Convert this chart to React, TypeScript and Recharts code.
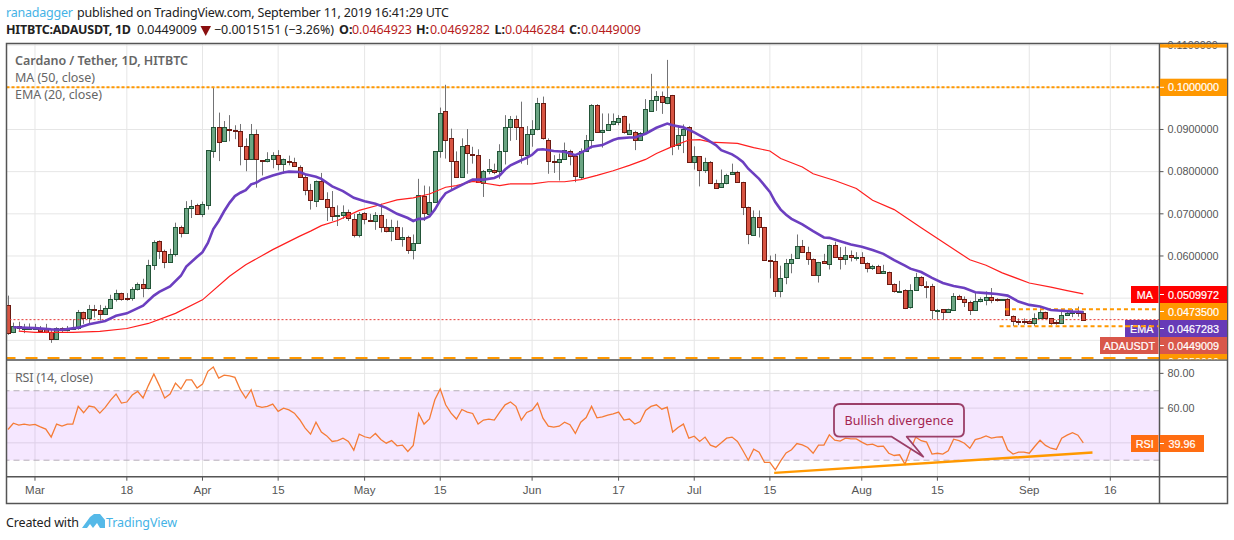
import React from 'react';
import {
  ComposedChart, Bar, Line, XAxis, YAxis, CartesianGrid, ReferenceLine, ReferenceArea,
} from 'recharts';

// Values are in thousandths of a USDT; day 0 is 1 March 2019
const firstDay = -5;
const opens = [
  48.4,41.9,43.3,42.9,42.9,42.9,43.0,42.6,41.9,40.2,
  42.9,42.4,42.8,42.9,46.7,45.4,47.4,47.1,46.2,47.6,
  49.8,51.2,50.0,50.0,52.1,53.3,52.4,57.9,63.6,61.1,
  58.6,60.5,66.9,65.4,71.4,72.1,70.0,72.1,85.0,90.6,
  87.3,90.2,89.9,89.7,86.2,82.9,89.0,82.7,82.6,82.9,
  84.0,81.7,82.6,82.4,81.2,78.8,75.7,73.1,77.9,73.6,
  71.7,69.4,69.8,70.5,68.8,64.9,70.2,68.6,68.3,69.8,
  66.8,65.9,66.9,64.0,64.5,61.4,63.1,74.3,70.0,72.9,
  84.8,94.3,87.9,82.6,78.7,86.4,84.3,84.0,77.4,80.2,
  80.5,80.2,85.0,90.5,92.6,90.7,84.0,89.0,90.0,96.2,
  87.4,82.6,82.4,83.1,84.9,83.6,78.7,85.0,87.4,95.7,
  89.5,89.8,91.2,91.8,93.1,89.0,89.5,87.4,89.2,94.5,
  97.0,97.9,96.2,98.1,86.3,88.6,90.5,82.4,83.6,80.5,
  82.4,77.4,76.4,77.4,79.5,80.0,77.6,71.7,65.0,69.3,
  66.9,59.0,58.8,51.7,55.0,58.3,59.5,62.4,61.0,59.3,
  55.5,58.8,58.1,62.6,59.8,59.3,60.2,59.7,59.8,58.3,
  57.1,57.6,55.9,56.2,53.3,51.7,52.0,47.8,51.9,55.0,
  52.9,52.9,47.1,47.4,46.7,47.2,50.5,49.9,49.2,47.1,
  49.3,49.5,50.2,49.7,49.6,49.8,45.7,44.6,44.6,44.6,
  44.2,45.2,46.7,45.2,44.3,44.2,46.0,46.4,46.8,46.4923,
];
const closes = [
  41.7,43.3,42.9,43.0,43.0,43.0,42.3,41.9,40.2,42.9,
  42.4,42.9,42.9,46.7,45.4,47.4,47.1,46.2,47.7,49.8,
  51.2,49.8,49.9,52.1,53.3,52.4,57.9,63.3,61.2,58.6,
  60.5,66.9,65.4,71.4,71.9,70.0,72.4,85.1,90.7,87.1,
  90.5,89.9,89.8,86.2,82.9,89.0,82.9,82.6,82.9,84.0,
  81.7,82.9,82.3,81.3,78.8,75.7,73.3,77.9,73.6,71.7,
  69.5,69.8,70.5,69.0,65.0,70.0,68.7,68.3,69.8,66.8,
  65.9,66.9,64.0,64.5,61.4,63.1,74.4,70.2,72.9,84.8,
  94.0,87.6,82.6,78.7,86.2,84.4,84.0,77.6,80.2,80.7,
  80.0,85.0,90.5,92.6,90.7,84.0,89.0,90.2,96.2,87.9,
  82.6,82.4,83.1,85.2,83.6,79.0,85.0,87.4,95.7,89.5,
  89.8,91.2,92.1,92.8,89.3,89.8,87.4,89.2,94.8,96.9,
  97.9,96.4,97.6,86.2,88.8,90.2,82.4,83.6,80.5,82.4,
  77.4,76.1,77.4,79.3,80.0,77.6,71.7,65.2,69.3,66.9,
  59.0,58.8,51.7,54.8,58.3,59.3,62.4,61.0,59.3,55.5,
  58.6,58.3,62.6,59.8,59.3,60.2,59.8,59.8,58.3,57.1,
  57.6,55.9,56.4,53.3,51.7,51.8,47.7,51.9,55.0,53.0,
  52.8,47.1,47.2,46.7,47.4,50.5,49.9,49.0,47.1,49.3,
  49.8,50.2,49.5,49.5,49.8,46.0,44.5,44.4,44.5,44.2,
  45.2,46.7,45.2,44.2,44.2,45.9,46.4,46.8,46.4,44.9009,
];
const highs = [
  50.6,44.2,44.4,43.9,44.0,43.9,43.4,43.9,42.6,43.1,
  43.1,43.4,45.0,47.2,46.8,48.4,48.4,48.4,48.2,50.8,
  52.0,51.3,51.2,52.6,53.7,54.6,59.1,63.7,63.7,61.5,
  61.7,67.9,67.2,73.0,73.3,72.4,72.9,85.1,100.0,94.0,
  92.0,93.4,91.0,91.3,87.9,91.3,90.0,82.7,84.6,84.6,
  85.1,83.1,83.8,83.3,81.5,79.5,77.1,77.9,79.7,75.1,
  75.4,72.0,72.0,71.0,70.0,70.4,70.4,70.0,70.4,72.4,
  68.8,68.6,68.4,66.8,64.8,65.1,78.3,76.7,76.5,84.8,
  95.2,100.6,90.2,84.8,87.9,90.1,85.9,85.3,80.4,83.0,
  81.9,86.5,93.4,93.2,93.3,96.6,90.8,92.2,97.5,97.8,
  87.9,83.9,84.3,86.9,85.2,83.9,85.5,88.7,96.0,96.0,
  93.8,93.8,93.8,93.4,93.3,91.4,89.7,89.4,97.2,103.2,
  99.1,99.0,106.5,98.2,91.0,91.2,90.8,86.0,83.7,83.3,
  82.5,78.1,80.5,79.5,81.9,80.2,77.6,71.7,70.8,70.8,
  66.9,60.1,60.5,57.7,59.3,60.5,65.1,63.8,62.2,59.4,
  58.6,60.5,62.7,63.4,62.1,62.2,61.3,60.9,60.9,58.5,
  57.9,57.9,57.9,56.3,53.5,54.1,52.1,53.3,56.0,55.2,
  54.0,53.4,47.4,47.4,47.5,51.2,50.8,50.4,49.4,51.2,
  50.2,51.6,52.4,50.0,49.8,50.0,45.9,45.2,45.2,44.8,
  46.4,47.5,46.8,45.3,44.8,46.8,47.2,47.4,48.0,46.9282,
];
const lows = [
  41.3,41.7,42.3,41.7,42.5,42.6,42.0,41.7,39.4,40.1,
  41.9,42.1,42.6,42.5,43.9,43.9,45.4,44.7,46.0,47.4,
  49.2,49.4,49.4,49.4,51.8,50.2,52.1,56.7,59.3,57.1,
  58.5,59.9,64.4,65.4,69.0,69.8,69.2,71.0,83.3,82.5,
  87.2,87.2,87.7,81.5,80.1,82.9,76.2,79.1,82.2,80.8,
  80.3,79.5,81.5,81.1,78.6,74.4,71.0,71.6,73.3,68.3,
  68.3,67.1,68.8,68.3,64.4,64.4,67.5,68.3,66.2,65.6,
  65.6,63.5,63.8,62.2,60.5,59.2,63.1,68.3,69.6,72.9,
  83.3,83.1,75.6,78.6,78.6,79.5,81.9,77.5,74.0,79.4,
  79.4,78.3,81.7,87.3,87.5,81.9,81.6,85.9,89.8,87.6,
  79.5,79.7,77.9,83.0,81.5,77.5,78.1,85.1,85.5,89.4,
  85.7,89.7,91.0,91.0,89.0,88.8,85.1,87.3,89.0,94.4,
  94.4,93.7,96.0,83.9,85.2,84.4,82.2,80.5,76.5,79.7,
  77.1,76.0,76.2,77.0,79.4,77.4,69.7,62.8,64.9,64.4,
  59.0,54.7,50.3,50.2,53.3,55.9,59.4,60.8,57.9,55.4,
  53.7,58.2,56.8,59.7,56.8,57.9,58.7,58.9,58.1,56.1,
  56.7,55.8,55.9,53.2,51.3,51.7,47.4,47.5,51.9,52.8,
  50.0,45.0,44.8,44.8,46.6,47.2,49.8,47.9,46.0,47.1,
  49.0,48.3,48.8,49.2,49.6,45.8,43.4,43.6,43.7,43.9,
  43.4,45.2,45.0,43.7,43.7,44.0,45.8,45.5,45.6,44.6284,
];
const rsiValues = [
  47.7,51.3,50.2,50.8,50.2,50.6,49.2,47.9,43.3,50.8,
  49.6,50.8,50.8,61.0,57.3,61.2,60.6,57.1,60.4,64.6,
  68.1,62.9,63.5,67.5,69.6,65.8,73.1,79.6,73.1,65.8,
  68.1,74.4,71.0,76.2,76.2,71.5,73.8,81.2,83.7,77.3,
  79.0,78.5,77.7,70.6,65.8,70.6,61.3,60.4,61.0,62.3,
  58.1,60.0,59.0,57.1,53.3,48.5,45.0,51.9,46.2,44.0,
  40.8,41.3,42.7,40.8,35.8,45.0,43.5,42.7,45.4,41.9,
  39.8,41.3,38.3,38.7,35.0,38.5,56.9,50.8,53.8,64.8,
  71.0,61.9,57.1,53.7,59.2,57.7,56.9,50.8,53.1,53.7,
  53.1,57.7,61.9,63.5,61.0,53.1,57.5,58.8,62.9,54.2,
  49.6,49.0,49.6,51.9,50.4,45.4,51.9,54.6,61.0,54.4,
  55.0,56.0,56.7,57.7,53.1,53.7,50.8,52.3,58.7,61.0,
  61.9,59.4,60.6,46.2,48.8,50.8,42.7,43.8,40.8,43.3,
  38.7,37.5,40.0,42.7,43.3,40.8,35.6,30.0,36.3,34.6,
  28.8,28.8,24.4,29.6,34.2,36.0,39.6,38.8,37.3,34.0,
  38.7,38.7,44.6,41.5,41.0,42.7,42.3,42.3,40.4,38.8,
  39.2,37.9,38.1,34.0,32.7,33.1,27.7,36.0,43.3,41.2,
  40.4,33.5,34.0,33.5,35.4,42.1,41.3,39.8,36.9,41.9,
  42.7,44.0,42.7,43.3,43.5,36.0,33.5,34.6,34.6,34.0,
  37.9,41.5,38.5,36.9,36.2,42.7,44.4,45.8,44.4,39.96,
];
// Averages are read at the days where the curve was legible
const emaDays = [-4,0,3,5,8,10,13,15,17,20,22,23,25,27,28,30,31,32,33,34,35,36,37,38,39,40,41,42,44,46,47,49,50,52,53,55,57,59,61,63,65,67,69,70,71,72,73,74,75,76,78,80,81,83,85,86,87,88,90,91,92,93,94,96,98,100,101,102,103,105,107,108,110,111,113,115,117,118,120,122,124,126,127,129,130,131,132,134,136,137,138,139,140,142,144,146,147,149,151,153,155,157,159,161,162,164,166,168,170,172,174,176,178,180,182,184,186,188,190,192,194];
const emaValues = [43.1,42.9,42.6,42.5,43.0,43.8,44.6,45.8,46.4,48.2,50.6,51.5,52.8,55.3,57.5,59.8,60.9,63.1,66.4,68.3,70.6,72.6,74.2,75.0,75.6,77.0,77.4,78.2,79.1,79.8,80.0,79.9,79.4,78.8,78.3,76.5,75.4,73.8,73.0,72.4,71.4,70.0,69.0,68.3,68.8,68.8,69.4,71.0,73.2,74.9,76.2,77.5,78.1,78.1,78.5,79.1,80.5,81.5,82.7,83.3,84.0,85.2,85.3,84.9,84.7,83.9,84.5,85.1,85.9,86.3,87.5,87.9,88.1,88.1,89.0,90.4,91.4,91.0,90.5,89.3,87.9,86.3,85.1,84.1,83.3,82.3,80.7,78.3,75.2,72.8,71.0,69.8,68.8,67.5,65.9,64.4,64.3,63.5,62.7,62.2,61.4,60.5,59.0,57.7,57.0,56.2,54.8,53.6,52.9,52.4,51.4,51.2,51.0,50.6,49.2,48.4,48.0,47.2,47.0,46.8,46.7283];
const maDays = [-3,0,7,12,17,21,26,31,36,39,44,49,51,53,56,60,64,67,70,73,76,78,81,83,86,88,92,95,98,101,104,107,110,113,115,118,121,123,125,130,133,136,138,142,144,148,152,155,159,164,173,176,179,184,188,191,194];
const maValues = [42.2,41.9,41.9,42.1,42.8,44.0,46.4,49.6,55.2,57.9,61.5,64.7,65.9,67.2,68.4,70.8,72.2,73.3,73.8,74.7,76.3,76.7,77.7,77.3,76.7,77.1,77.1,77.6,77.6,78.1,79.1,80.2,81.5,82.9,84.3,86.0,87.5,87.6,87.0,86.7,85.7,84.9,83.1,81.1,79.5,77.9,76.0,73.2,71.0,66.7,59.1,57.8,56.0,53.6,52.6,51.8,50.9972];

const dayTicks = [0, 17, 31, 45, 61, 75, 92, 108, 122, 136, 153, 167, 184, 199];
const dayLabels = ['Mar', '18', 'Apr', '15', 'May', '15', 'Jun', '17', 'Jul', '15', 'Aug', '15', 'Sep', '16'];
const priceTicks = [0.04, 0.05, 0.06, 0.07, 0.08, 0.09, 0.1, 0.11];
const rsiTicks = [40, 60, 80];
const levels = { resistance: 0.1, upper: 0.04735, lower: 0.04333, base: 0.0358, last: 0.0449009 };
const rsiTrend = { fromDay: 136.8, fromRsi: 22.7, toDay: 195.7, toRsi: 34.4 };

const table = opens.map((o, i) => {
  const day = firstDay + i;
  const e = emaDays.indexOf(day);
  const m = maDays.indexOf(day);
  return {
    day,
    o: o / 1000,
    c: closes[i] / 1000,
    h: highs[i] / 1000,
    l: lows[i] / 1000,
    range: [lows[i] / 1000, highs[i] / 1000],
    ema: e >= 0 ? emaValues[e] / 1000 : null,
    ma: m >= 0 ? maValues[m] / 1000 : null,
    rsi: rsiValues[i],
  };
});

const xDomain = [-5.27, 208.1];
const axisFont = '"Liberation Sans", Arial, sans-serif';
const uiFont = '"Noto Sans", "Open Sans", sans-serif';
const tickStyle = { fontSize: 10.8, fontFamily: axisFont, fill: '#555' };

const Candle = (props: any) => {
  const { x, y, width, height, payload } = props;
  if (!payload || !height) return null;
  const cx = Math.round(x + width / 2) + 0.5;
  const perUnit = height / (payload.h - payload.l);
  const yOf = (v: number) => y + (payload.h - v) * perUnit;
  const up = payload.c >= payload.o;
  const top = Math.round(yOf(Math.max(payload.o, payload.c))) + 0.5;
  const bottom = Math.max(top + 1, Math.round(yOf(Math.min(payload.o, payload.c))) + 0.5);
  return (
    <g>
      <line x1={cx} x2={cx} y1={y} y2={y + height} stroke="#737375" strokeWidth={1} />
      <rect
        x={cx - 2} y={top} width={4} height={bottom - top}
        fill={up ? '#6ba583' : '#d75442'}
        stroke={up ? '#225437' : '#6b1a12'}
        strokeWidth={1}
      />
    </g>
  );
};

const Tag = ({ x, y, w, h, fill, label }: any) => (
  <g>
    <rect x={x} y={y} width={w} height={h} fill={fill} />
    <text x={x + w / 2} y={y + h / 2 + 4} textAnchor="middle" fontFamily={axisFont} fontSize={10.8} fontWeight={400} fill="#fff" stroke="#fff" strokeWidth={0.2}>{label}</text>
  </g>
);
const tick = (y: number) => <line x1={1160} x2={1164} y1={y} y2={y} stroke="#fff" strokeWidth={1} />;

const Overlay = () => (
  <svg width={1234} height={540} style={{ position: 'absolute', left: 0, top: 0, pointerEvents: 'none' }}>
    {/* header */}
    <text x={6} y={17} fontFamily={uiFont} fontSize={12.5} fill="#45b3e6" textLength={67}>ranadagger</text>
    <text x={77} y={17} fontFamily={uiFont} fontSize={12.5} fill="#222" textLength={372}>published on TradingView.com, September 11, 2019 16:41:29 UTC</text>
    <text x={6} y={34} fontFamily={uiFont} fontSize={12.5} fontWeight={700} fill="#222" textLength={125}>HITBTC:ADAUSDT, 1D</text>
    <text x={137} y={34} fontFamily={uiFont} fontSize={12.5} fill="#222" textLength={60}>0.0449009</text>
    <path d="M200.5 26 L211 26 L205.7 36 Z" fill="#8a0f0f" />
    <text x={214} y={34} fontFamily={uiFont} fontSize={12.5} fill="#222" textLength={120}>−0.0015151 (−3.26%)</text>
    {[
      ['O:', 339, '0.0464923', 352],
      ['H:', 416, '0.0469282', 430],
      ['L:', 494.5, '0.0446284', 505],
      ['C:', 569, '0.0449009', 581],
    ].map(([k, kx, v, vx]) => (
      <g key={k as string}>
        <text x={kx as number} y={34} fontFamily={uiFont} fontSize={12.5} fontWeight={700} fill="#222">{k}</text>
        <text x={vx as number} y={34} fontFamily={uiFont} fontSize={12.5} fill="#b71c1c" textLength={60}>{v}</text>
      </g>
    ))}
    {/* pane legends */}
    <text x={15} y={65} fontFamily={uiFont} fontSize={12.5} fontWeight={600} fill="#666" textLength={173}>Cardano / Tether, 1D, HITBTC</text>
    <text x={15} y={82} fontFamily={uiFont} fontSize={12.5} fill="#666" textLength={80}>MA (50, close)</text>
    <text x={15} y={99} fontFamily={uiFont} fontSize={12.5} fill="#666" textLength={87}>EMA (20, close)</text>
    <text x={15} y={382} fontFamily={uiFont} fontSize={12.5} fill="#666" textLength={78}>RSI (14, close)</text>
    {/* frame */}
    <g fill="none" stroke="#555" strokeWidth={1.5}>
      <rect x={6.5} y={43.5} width={1221} height={460} />
      <line x1={6.5} x2={1227.5} y1={360} y2={360} />
      <line x1={6.5} x2={1227.5} y1={476.7} y2={476.7} />
      <line x1={1159.5} x2={1159.5} y1={43.5} y2={503.5} />
    </g>
    {/* price tags */}
    <rect x={1160} y={44.2} width={67} height={3.4} fill="#ff9800" />
    <Tag x={1160} y={78.7} w={67} h={17.3} fill="#ff9800" label="0.1000000" />
    {tick(87.3)}
    <Tag x={1131} y={286} w={27.5} h={17} fill="#ff0000" label="MA" />
    <Tag x={1160} y={286} w={67} h={17} fill="#ff0000" label="0.0509972" />
    {tick(294.5)}
    <Tag x={1160} y={303} w={67} h={17} fill="#ff9800" label="0.0473500" />
    {tick(311.5)}
    <Tag x={1125} y={320} w={33.5} h={17} fill="#673ab7" label="EMA" />
    <Tag x={1160} y={320} w={67} h={17} fill="#673ab7" label="0.0467283" />
    {tick(328.5)}
    <Tag x={1100} y={337} w={58.5} h={17} fill="#d9574a" label="ADAUSDT" />
    <Tag x={1160} y={337} w={67} h={17} fill="#d9574a" label="0.0449009" />
    {tick(345.5)}
    <line x1={1125} x2={1158.5} y1={326.3} y2={326.3} stroke="#ff9800" strokeWidth={2} strokeDasharray="5 3" />
    <rect x={1160} y={354} width={67} height={5.3} fill="#ff9800" />
    <clipPath id="baseClip"><rect x={1160} y={354} width={67} height={5.3} /></clipPath>
    <text x={1193.5} y={365.5} textAnchor="middle" clipPath="url(#baseClip)" fontFamily={axisFont} fontSize={10.8} fill="#fff">0.0358000</text>
    {/* RSI tags */}
    <Tag x={1131} y={435} w={27.5} h={17} fill="#ff6d12" label="RSI" />
    <Tag x={1160} y={435} w={44} h={17} fill="#ff6d12" label="39.96" />
    {tick(443.5)}
    {/* callout */}
    <path
      d="M840 404 H958 Q964 404 964 410 V430.7 Q964 436.7 958 436.7 H906.7 L923.3 456.7 L891.7 436.7 H840 Q834 436.7 834 430.7 V410 Q834 404 840 404 Z"
      fill="#f3e4fb" fillOpacity={0.85} stroke="#9b3f68" strokeWidth={1.8} strokeLinejoin="round"
    />
    <text x={899} y={424.5} textAnchor="middle" fontFamily={uiFont} fontSize={12.5} fill="#a3244f" textLength={109}>Bullish divergence</text>
    {/* footer */}
    <text x={6} y={527} fontFamily={uiFont} fontSize={12.5} fill="#222" textLength={73}>Created with</text>
    <path d="M82 528 L90 517 L94 514 L100 514 L105 520 L105 528 L100 528 L97 523 L93 528 L90 524 L87 528 Z" fill="#55b9e8" />
    <text x={106} y={527} fontFamily={uiFont} fontSize={12.5} fill="#45b3e6" textLength={71}>TradingView</text>
  </svg>
);

const PriceChart = () => (
  <div style={{ position: 'absolute', left: 0, top: 0 }}>
    <ComposedChart width={1234} height={360} data={table} margin={{ top: 43.5, right: 6.5, bottom: 0.5, left: 6.5 }}>
      <XAxis dataKey="day" type="number" domain={xDomain} ticks={dayTicks} allowDataOverflow hide />
      <YAxis
        yAxisId="p" orientation="right" width={68} domain={[0.03545, 0.11039]} ticks={priceTicks} interval={0}
        allowDataOverflow tickFormatter={(v: number) => (v < 0.055 ? '' : v.toFixed(7))} tick={tickStyle} tickSize={4} tickMargin={4}
        axisLine={false} tickLine={{ stroke: '#555' }}
      />
      <CartesianGrid stroke="#e6e6e6" strokeWidth={1} yAxisId="p" />
      <ReferenceLine yAxisId="p" y={levels.resistance} stroke="#ff9800" strokeWidth={2} strokeDasharray="3 2" />
      <ReferenceLine yAxisId="p" y={levels.base} stroke="#ff9800" strokeWidth={2} strokeDasharray="12 10" />
      <ReferenceLine yAxisId="p" y={levels.last} stroke="#e53935" strokeWidth={1} strokeDasharray="2 2" />
      <ReferenceLine yAxisId="p" stroke="#ff9800" strokeWidth={2} strokeDasharray="4 3"
        segment={[{ x: 179.5, y: levels.upper }, { x: 208.1, y: levels.upper }]} />
      <ReferenceLine yAxisId="p" stroke="#ff9800" strokeWidth={2} strokeDasharray="4 3"
        segment={[{ x: 178.5, y: levels.lower }, { x: 208.1, y: levels.lower }]} />
      <Line yAxisId="p" dataKey="ma" stroke="#ff1f1f" strokeWidth={1.2} dot={false} connectNulls isAnimationActive={false} />
      <Line yAxisId="p" dataKey="ema" stroke="#6c3fc0" strokeWidth={2.6} dot={false} connectNulls isAnimationActive={false} />
      <Bar yAxisId="p" dataKey="range" barSize={5} shape={Candle} isAnimationActive={false} />
    </ComposedChart>
  </div>
);

const RsiChart = () => (
  <div style={{ position: 'absolute', left: 0, top: 360 }}>
    <ComposedChart width={1234} height={143.5} data={table} margin={{ top: 0, right: 6.5, bottom: 0, left: 6.5 }}>
      <XAxis
        dataKey="day" type="number" domain={xDomain} ticks={dayTicks} interval={0} allowDataOverflow height={26.8}
        tickFormatter={(v: number) => dayLabels[dayTicks.indexOf(v)]} tick={{ ...tickStyle, fontSize: 11.5 }}
        tickSize={4} tickMargin={5} axisLine={false} tickLine={{ stroke: '#555' }}
      />
      <YAxis
        orientation="right" width={68} domain={[20.5, 87.7]} ticks={rsiTicks} interval={0} allowDataOverflow
        tickFormatter={(v: number) => (v < 50 ? '' : v.toFixed(2))} tick={tickStyle} tickSize={4} tickMargin={4}
        axisLine={false} tickLine={{ stroke: '#555' }}
      />
      <ReferenceArea y1={30} y2={70} fill="#9915ff" fillOpacity={0.1} stroke="none" ifOverflow="hidden" />
      <CartesianGrid stroke="#e6e6e6" strokeWidth={1} />
      <ReferenceLine y={70} stroke="#b5aeb8" strokeDasharray="6 4" strokeWidth={1} />
      <ReferenceLine y={30} stroke="#b5aeb8" strokeDasharray="6 4" strokeWidth={1} />
      <Line dataKey="rsi" stroke="#f57c36" strokeWidth={1.3} dot={false} isAnimationActive={false} />
      <ReferenceLine stroke="#ff9800" strokeWidth={2.4}
        segment={[{ x: rsiTrend.fromDay, y: rsiTrend.fromRsi }, { x: rsiTrend.toDay, y: rsiTrend.toRsi }]} />
    </ComposedChart>
  </div>
);

export default function App() {
  return (
    <div style={{ position: 'absolute', left: 0, top: 0, width: 1234, height: 540, background: '#fff', overflow: 'hidden' }}>
      <PriceChart />
      <RsiChart />
      <Overlay />
    </div>
  );
}
